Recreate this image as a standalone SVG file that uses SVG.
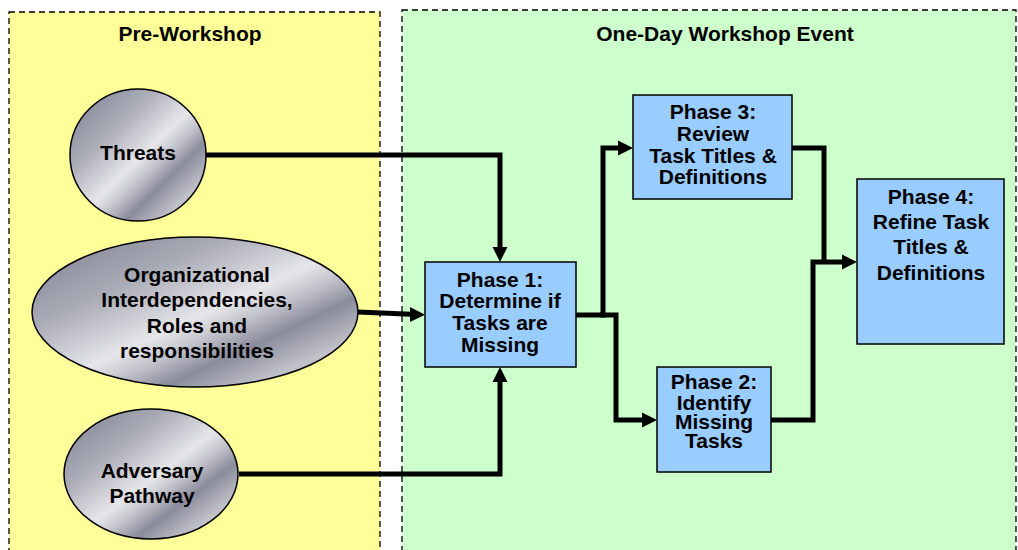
<svg xmlns="http://www.w3.org/2000/svg" width="1018" height="550" viewBox="0 0 1018 550">
<style>
.panel{stroke:#000;stroke-width:1.3;stroke-dasharray:6,4}
.t{font-family:"Liberation Sans",Arial,sans-serif;font-weight:bold;font-size:21px;fill:#000;text-anchor:middle}
.oval{fill:url(#metal);stroke:#000;stroke-width:1.5}
.box{fill:#99CCFF;stroke:#000;stroke-width:1.5}
.conn{fill:none;stroke:#000;stroke-width:5;stroke-linejoin:miter}
.head{fill:#000}
</style>
<defs>
<linearGradient id="metal" x1="0" y1="0" x2="1" y2="1">
<stop offset="0" stop-color="#7c7e90"/>
<stop offset="0.3" stop-color="#a9abb6"/>
<stop offset="0.52" stop-color="#e6e6ea"/>
<stop offset="0.6" stop-color="#c4c5cc"/>
<stop offset="0.7" stop-color="#8a8c9c"/>
<stop offset="0.84" stop-color="#c2c3ca"/>
<stop offset="1" stop-color="#8a8c9c"/>
</linearGradient>
</defs>

<g id="pre-workshop">
<rect class="panel" x="9" y="12" width="371" height="545" fill="#FFFF99"/>
<text class="t" x="190" y="41">Pre-Workshop</text>
</g>
<g id="workshop-event">
<rect class="panel" x="402" y="10" width="614" height="547" fill="#CCFFCC"/>
<text class="t" x="725" y="41">One-Day Workshop Event</text>
</g>

<g id="connectors">
<path class="conn" d="M206,155 H500 V248"/>
<polygon class="head" points="492.5,247 507.5,247 500,262"/>
<path class="conn" d="M358,312 L411,314.3"/>
<polygon class="head" points="410,307 425,314.8 410,322"/>
<path class="conn" d="M239,474 H500 V381"/>
<polygon class="head" points="492.5,382 507.5,382 500,367"/>
<path class="conn" d="M576,315 H603 V148 H619"/>
<polygon class="head" points="618,140.5 633,148 618,155.5"/>
<path class="conn" d="M600,315 H616 V420 H643"/>
<polygon class="head" points="642,412.5 657,420 642,427.5"/>
<path class="conn" d="M792,148 H824 V262"/>
<path class="conn" d="M771,420 H813 V262 H843"/>
<polygon class="head" points="842,254.5 857,262 842,269.5"/>
</g>

<g id="threats">
<ellipse class="oval" cx="138" cy="155" rx="68" ry="66"/>
<text class="t" x="138" y="160">Threats</text>
</g>
<g id="org">
<ellipse class="oval" cx="195" cy="312" rx="163" ry="75"/>
<text class="t" x="197" y="282">Organizational</text>
<text class="t" x="197" y="307">Interdependencies,</text>
<text class="t" x="197" y="333">Roles and</text>
<text class="t" x="197" y="358">responsibilities</text>
</g>
<g id="adversary">
<ellipse class="oval" cx="151" cy="474" rx="87" ry="65"/>
<text class="t" x="152" y="478">Adversary</text>
<text class="t" x="152" y="503">Pathway</text>
</g>

<g id="phase1">
<rect class="box" x="425" y="262" width="151" height="105"/>
<text class="t" x="500" y="287">Phase 1:</text>
<text class="t" x="500" y="308">Determine if</text>
<text class="t" x="500" y="330">Tasks are</text>
<text class="t" x="500" y="352">Missing</text>
</g>
<g id="phase3">
<rect class="box" x="633" y="95" width="159" height="104"/>
<text class="t" x="713" y="119">Phase 3:</text>
<text class="t" x="713" y="141">Review</text>
<text class="t" x="713" y="163">Task Titles &amp;</text>
<text class="t" x="713" y="184">Definitions</text>
</g>
<g id="phase2">
<rect class="box" x="657" y="367" width="114" height="105"/>
<text class="t" x="714" y="389">Phase 2:</text>
<text class="t" x="714" y="410">Identify</text>
<text class="t" x="714" y="429">Missing</text>
<text class="t" x="714" y="448">Tasks</text>
</g>
<g id="phase4">
<rect class="box" x="857" y="179" width="147" height="165"/>
<text class="t" x="931" y="204">Phase 4:</text>
<text class="t" x="931" y="229">Refine Task</text>
<text class="t" x="931" y="254">Titles &amp;</text>
<text class="t" x="931" y="280">Definitions</text>
</g>
</svg>
